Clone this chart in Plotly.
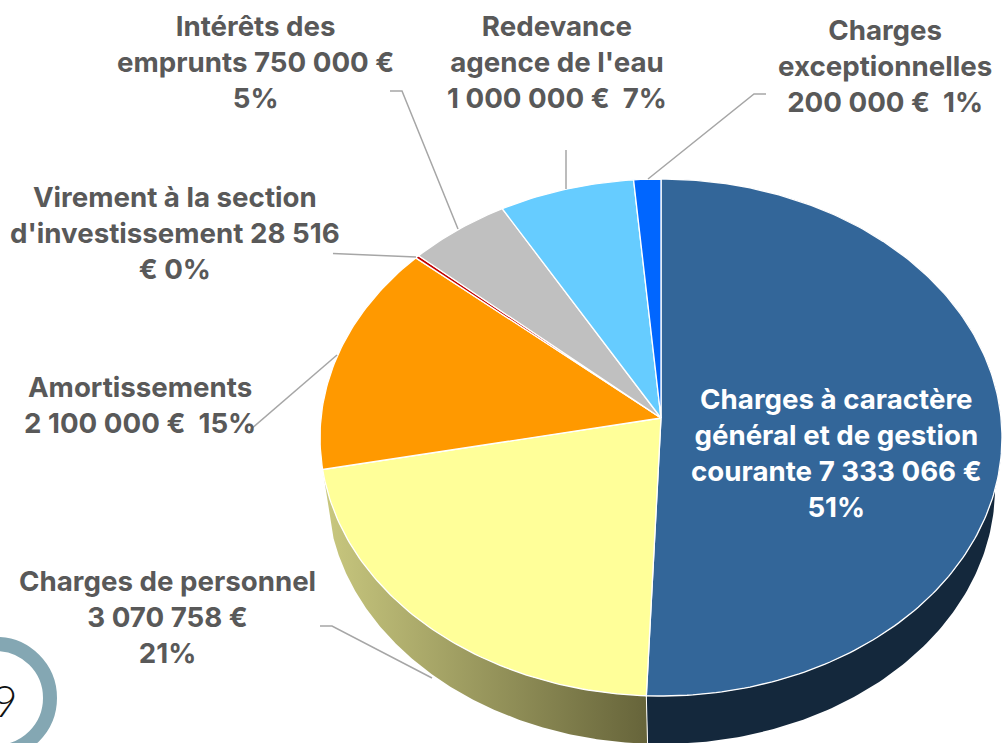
import numpy as np
import plotly.graph_objects as go

# ---- data ----
categories = ["Charges à caractère général et de gestion courante", "Charges de personnel", "Amortissements",
              "Virement à la section d'investissement", "Intérêts des emprunts", "Redevance agence de l'eau",
              "Charges exceptionnelles"]
values = [7333066, 3070758, 2100000, 28516, 750000, 1000000, 200000]
colors = ["#336699", "#FFFF99", "#FF9900", "#C00000", "#C0C0C0", "#66CCFF", "#0066FF"]
label_texts = [
    "Charges à caractère<br>général et de gestion<br>courante 7 333 066 €<br>51%",
    "Charges de personnel<br>3 070 758 €<br>21%",
    "Amortissements<br>2 100 000 €  15%",
    "Virement à la section<br>d'investissement 28 516<br>€ 0%",
    "Intérêts des<br>emprunts 750 000 €<br>5%",
    "Redevance<br>agence de l'eau<br>1 000 000 €  7%",
    "Charges<br>exceptionnelles<br>200 000 €  1%",
]
label_x = [836, 167, 140, 175, 255, 557, 885]
label_y = [453, 617, 405, 233, 62, 62, 66]
label_col = ["#FFFFFF"] + ["#595959"] * 6
leaders = [
    ([320, 332, 432], [626, 626, 678]),
    ([250, 337], [430, 355]),
    ([333, 416], [253.5, 257]),
    ([390, 402, 458], [91, 91, 229]),
    ([566, 566], [150, 189]),
    ([766, 754, 648], [94, 94, 179]),
]
FONT = "Inter"
FS = 27.7

# ---- geometry of the tilted pie ----
CX, APEX_Y, TOP, BOTTOM = 661.0, 418.0, 179.0, 696.0
C = (2 * APEX_Y - TOP - BOTTOM) / (BOTTOM - TOP)
Ay = (BOTTOM - APEX_Y) + BOTTOM * C
Ax = 340.0


def project(theta):
    u, v = np.sin(theta), -np.cos(theta)
    w = 1 + C * v
    return CX + Ax * u / w, (Ay * v + APEX_Y) / w


def lower(theta):
    u, v = np.sin(theta), -np.cos(theta)
    return 661 + 334 * u, 488 + 256 * v


fracs = np.array(values, dtype=float) / sum(values)
edges = np.concatenate([[0], np.cumsum(fracs)]) * 2 * np.pi

fig = go.Figure()

# side wall
for i, grad in [(0, None), (1, ["#C9C87F", "#66643A"])]:
    th = np.linspace(edges[i], edges[i + 1], 200)
    xt, yt = project(th)
    xb, yb = lower(th)
    kw = dict(fillcolor="#14283C") if grad is None else dict(
        fillgradient=dict(type="horizontal", colorscale=[[0, grad[0]], [1, grad[1]]]))
    fig.add_trace(go.Scatter(x=np.r_[xt, xb[::-1]], y=np.r_[yt, yb[::-1]], mode="lines", fill="toself",
                             line=dict(width=0), hoverinfo="skip", showlegend=False, **kw))
# seam
th0 = edges[1]
xa, ya = project(th0)
xb0, yb0 = lower(th0)
fig.add_trace(go.Scatter(x=[xa, xb0], y=[ya, yb0 + 5], mode="lines", line=dict(color="#FFFFFF", width=1),
                         hoverinfo="skip", showlegend=False))

# top face
for i, name in enumerate(categories):
    th = np.linspace(edges[i], edges[i + 1], max(3, int(fracs[i] * 400)))
    x, y = project(th)
    fig.add_trace(go.Scatter(x=np.r_[CX, x, CX], y=np.r_[APEX_Y, y, APEX_Y], mode="lines", fill="toself",
                             fillcolor=colors[i], line=dict(color="#FFFFFF", width=1.3),
                             name=name, showlegend=False, hoverinfo="name"))

# leader lines
for lx, ly in leaders:
    fig.add_trace(go.Scatter(x=lx, y=ly, mode="lines", line=dict(color="#A6A6A6", width=1.5),
                             hoverinfo="skip", showlegend=False))

for t, x, y, c in zip(label_texts, label_x, label_y, label_col):
    fig.add_annotation(x=x, y=y, text=t, showarrow=False, xanchor="center", yanchor="middle", align="center",
                       font=dict(family=FONT, size=FS, color=c, weight="bold"))

# page-number ring
fig.add_shape(type="circle", x0=-58, x1=50, y0=644, y1=752, line=dict(color="#84A7B3", width=14),
              fillcolor="rgba(0,0,0,0)")
fig.add_annotation(x=20, y=700, text="9", showarrow=False, xanchor="right", yanchor="middle",
                   font=dict(family="Lato", size=44, color="#111111", weight=300))

fig.update_layout(width=1003, height=743, autosize=False, margin=dict(l=0, r=0, t=0, b=0),
                  paper_bgcolor="#FFFFFF", plot_bgcolor="#FFFFFF", showlegend=False,
                  xaxis=dict(range=[0, 1003], visible=False, fixedrange=True),
                  yaxis=dict(range=[743, 0], visible=False, fixedrange=True))
fig.write_html("out.html", config=dict(displayModeBar=False),
               post_script="document.body.style.margin='0';")
